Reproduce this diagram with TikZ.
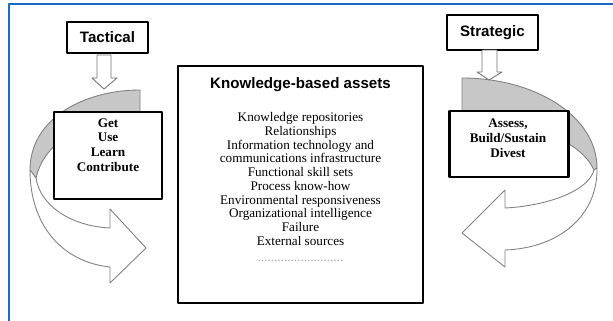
\documentclass[tikz,border=0pt]{standalone}
\usepackage{fontspec}
\setmainfont{Liberation Serif}
\setsansfont{Liberation Sans}
\usetikzlibrary{positioning}

\definecolor{framecol}{RGB}{22,108,196}

\tikzset{
    tagbox/.style={draw, line width=1.2pt, fill=white,
        font=\sffamily\bfseries\fontsize{8.6}{10}\selectfont},
    actbox/.style={draw, line width=1.2pt, fill=white},
    acttext/.style={align=center, inner sep=0pt,
        font=\bfseries\fontsize{7.5}{8.4}\selectfont},
    headtext/.style={inner sep=0pt, font=\sffamily\bfseries\fontsize{8.6}{10}\selectfont},
    listtext/.style={align=center, inner sep=0pt, font=\fontsize{7.5}{7.85}\selectfont},
    backband/.style={fill=black!22, draw=black!50, line width=0.5pt},
    frontband/.style={fill=white, draw=black!50, line width=0.5pt},
    hollow/.style={fill=white, draw=black!55, line width=0.5pt}
}

\begin{document}
\begin{tikzpicture}[x=0.02cm, y=-0.02cm, line join=round]
            \useasboundingbox (0,0) rectangle (613,321);
            \draw[framecol, line width=1.2pt] (9,321) -- (9,4) -- (613,4);

            % left turn arrow
            \path[backband] (140,90) .. controls (85,90) and (30,118) .. (30,170)
                -- (36,178) .. controls (45,138) and (90,118) .. (140,118) -- cycle;
            \path[frontband] (30,170) .. controls (30,225) and (62,262) .. (110,267)
                -- (110,283) -- (146,248) -- (110,209) -- (110,228)
                .. controls (70,226) and (40,205) .. (36,178) -- cycle;

            % right turn arrow
            \path[backband] (462,78) .. controls (535,78) and (597,116) .. (597,168)
                -- (594,170) .. controls (580,140) and (530,120) .. (462,120) -- cycle;
            \path[frontband] (597,168) .. controls (598,215) and (560,248) .. (505,250)
                -- (505,267) -- (462,233) -- (505,190) -- (505,208)
                .. controls (545,206) and (588,192) .. (594,170) -- cycle;

            \node[tagbox, minimum width=1.62cm, minimum height=0.62cm] (tactical) at (107.5,37.5) {Tactical};
            \node[tagbox, minimum width=1.82cm, minimum height=0.70cm] (strategic) at (492.5,32.5) {Strategic};

            \node[actbox, minimum width=2.16cm, minimum height=1.74cm] (getbox) at (108,155.5) {};
            \node[acttext] (gettext) at (108,145) {Get\\Use\\Learn\\Contribute};

            \node[actbox, minimum width=2.38cm, minimum height=1.32cm] (assessbox) at (509,144) {};
            \node[acttext] (assesstext) at (508,138) {Assess,\\Build/Sustain\\Divest};

            \node[actbox, minimum width=4.9cm, minimum height=4.74cm] (assets) at (300.5,184.5) {};
            \node[headtext] (assetshead) [below=7pt of assets.north] {Knowledge-based assets};
            \node[listtext] (assetslist) at (300.5,179) {Knowledge repositories\\Relationships\\
                Information technology and\\communications infrastructure\\Functional skill sets\\
                Process know-how\\Environmental responsiveness\\Organizational intelligence\\
                Failure\\External sources};
            \node[listtext, text=black!35] (assetsdots) [below=8pt of assetslist] {..........................};

            % hollow arrows into the turns
            \path[hollow] (97,55) -- (111,55) -- (111,78) -- (117,78) -- (104,89)
                -- (92,78) -- (97,78) -- cycle;
            \path[hollow] (482,50) -- (497,50) -- (497,72) -- (502,72) -- (489,80)
                -- (477,72) -- (482,72) -- cycle;
        \end{tikzpicture}
\end{document}
